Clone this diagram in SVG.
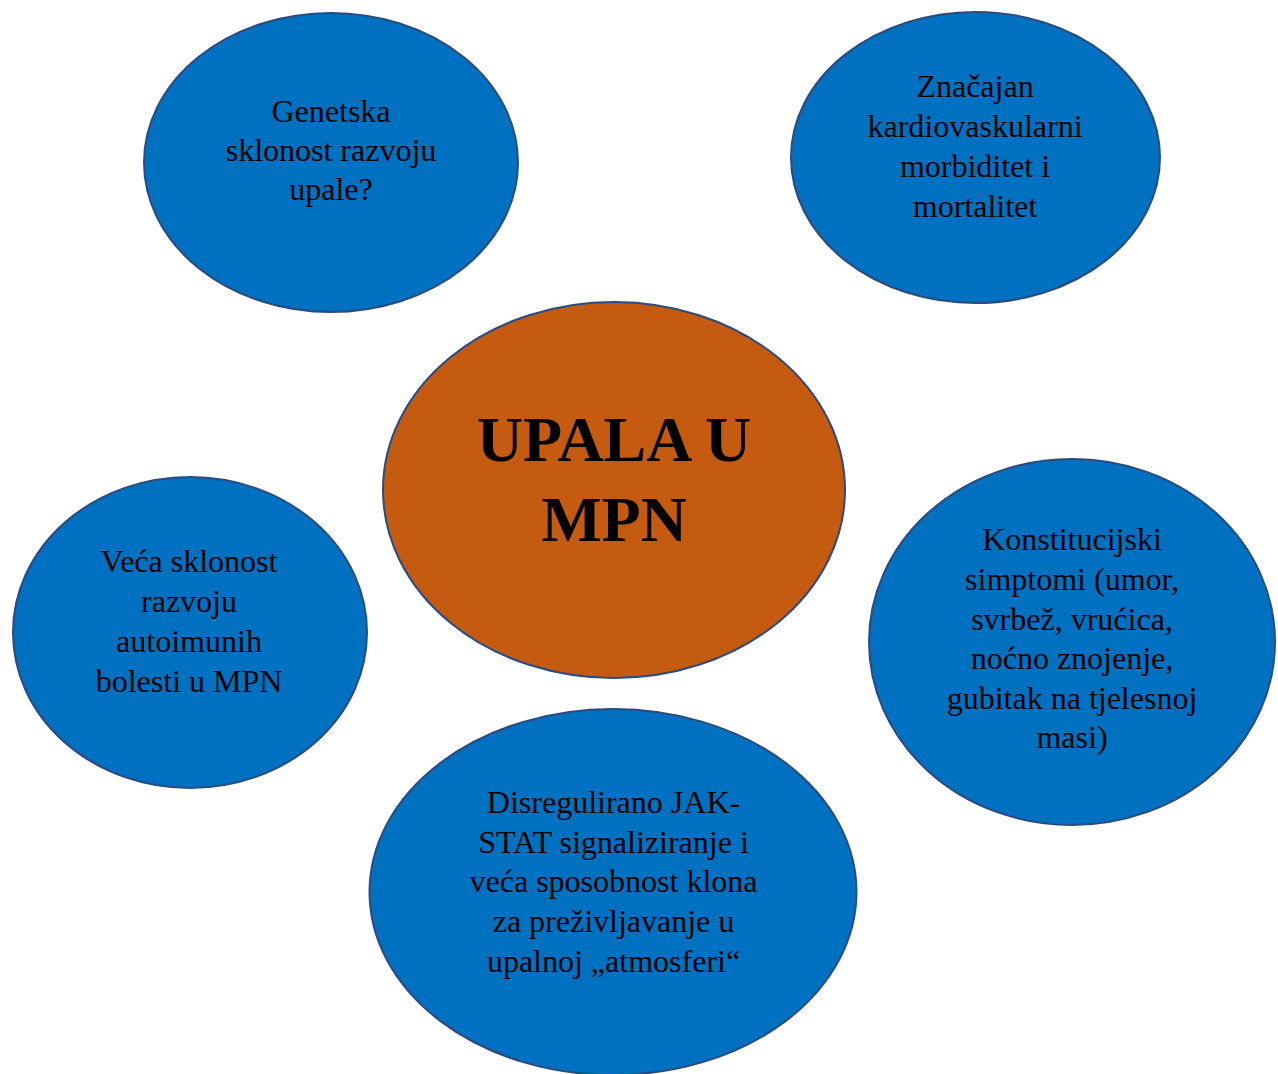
<svg xmlns="http://www.w3.org/2000/svg" width="1278" height="1074" viewBox="0 0 1278 1074">
<style>
.blue{fill:#0070C0;stroke:#2A4A80;stroke-width:2}
.orange{fill:#C55A11;stroke:#2A4A80;stroke-width:2}
.t{font-family:"Liberation Serif","Times New Roman",serif;font-size:32px;fill:#000;text-anchor:middle}
.tb{font-family:"Liberation Serif","Times New Roman",serif;font-size:64px;font-weight:bold;fill:#000;text-anchor:middle}
</style>
<rect width="1278" height="1074" fill="#fff"/>
<g id="connectors"></g>
<g id="node-genetska">
<ellipse class="blue" cx="331" cy="162.5" rx="187" ry="149.5"/>
<text class="t" x="331" y="122">Genetska</text>
<text class="t" x="331" y="161">sklonost razvoju</text>
<text class="t" x="331" y="200">upale?</text>
</g>
<g id="node-kardio">
<ellipse class="blue" cx="975.5" cy="157.5" rx="184.5" ry="145.5"/>
<text class="t" x="975" y="97">Značajan</text>
<text class="t" x="975" y="137">kardiovaskularni</text>
<text class="t" x="975" y="177">morbiditet i</text>
<text class="t" x="975" y="217">mortalitet</text>
</g>
<g id="node-center">
<ellipse class="orange" cx="614" cy="490" rx="231" ry="188"/>
<text class="tb" x="614" y="461">UPALA U</text>
<text class="tb" x="614" y="541">MPN</text>
</g>
<g id="node-autoimune">
<ellipse class="blue" cx="190" cy="632.5" rx="177" ry="155.5"/>
<text class="t" x="189" y="572">Veća sklonost</text>
<text class="t" x="189" y="612">razvoju</text>
<text class="t" x="189" y="652">autoimunih</text>
<text class="t" x="189" y="692">bolesti u MPN</text>
</g>
<g id="node-konstitucijski">
<ellipse class="blue" cx="1072" cy="642" rx="203" ry="183"/>
<text class="t" x="1072" y="550">Konstitucijski</text>
<text class="t" x="1072" y="589.5">simptomi (umor,</text>
<text class="t" x="1072" y="629.5">svrbež, vrućica,</text>
<text class="t" x="1072" y="669">noćno znojenje,</text>
<text class="t" x="1072" y="708.5">gubitak na tjelesnoj</text>
<text class="t" x="1072" y="748">masi)</text>
</g>
<g id="node-jakstat">
<ellipse class="blue" cx="613" cy="892" rx="243.5" ry="183"/>
<text class="t" x="613.5" y="813">Disregulirano JAK-</text>
<text class="t" x="613.5" y="853">STAT signaliziranje i</text>
<text class="t" x="613.5" y="892">veća sposobnost klona</text>
<text class="t" x="613.5" y="932">za preživljavanje u</text>
<text class="t" x="613.5" y="972">upalnoj „atmosferi“</text>
</g>
</svg>
